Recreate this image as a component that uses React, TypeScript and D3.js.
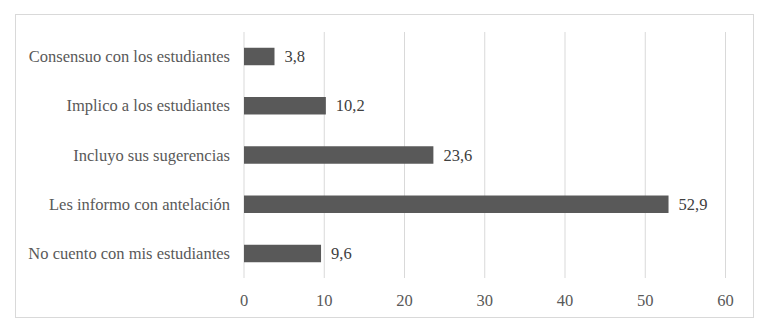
import * as d3 from "d3";
import { useEffect, useRef } from "react";

const categories = [
  "Consensuo con los estudiantes",
  "Implico a los estudiantes",
  "Incluyo sus sugerencias",
  "Les informo con antelación",
  "No cuento con mis estudiantes",
];
const values = [3.8, 10.2, 23.6, 52.9, 9.6];
const ticks = [0, 10, 20, 30, 40, 50, 60];

const App = () => {
  const ref = useRef<SVGSVGElement>(null);

  useEffect(() => {
    const plot = { left: 244, right: 725.5, top: 32, bottom: 278 };
    const font = "'Liberation Serif', serif";
    const fs = 16.5;

    const svg = d3.select(ref.current);
    svg.selectAll("*").remove();

    // chart frame
    svg.append("rect")
      .attr("x", 15.5).attr("y", 14.5)
      .attr("width", 738).attr("height", 303)
      .attr("fill", "white")
      .attr("stroke", "#d9d9d9");

    const x = d3.scaleLinear().domain([0, 60]).range([plot.left, plot.right]);
    const y = d3.scaleBand().domain(categories).range([plot.top, plot.bottom]).paddingInner(0.645).paddingOuter(0.32);

    // gridlines
    svg.append("g").selectAll("line").data(ticks).enter().append("line")
      .attr("x1", d => x(d)).attr("x2", d => x(d))
      .attr("y1", plot.top).attr("y2", plot.bottom)
      .attr("stroke", "#d9d9d9").attr("stroke-width", 1);

    // tick labels
    svg.append("g").selectAll("text").data(ticks).enter().append("text")
      .attr("x", d => x(d)).attr("y", 300)
      .attr("text-anchor", "middle").attr("dominant-baseline", "central")
      .attr("font-family", font).attr("font-size", fs)
      .attr("fill", "#595959")
      .text(d => d);

    // bars
    svg.append("g").selectAll("rect").data(values).enter().append("rect")
      .attr("x", x(0))
      .attr("y", (d, i) => y(categories[i])!)
      .attr("width", d => x(d) - x(0))
      .attr("height", y.bandwidth())
      .attr("fill", "#595959");

    // category labels
    svg.append("g").selectAll("text").data(categories).enter().append("text")
      .attr("x", plot.left - 14)
      .attr("y", d => y(d)! + y.bandwidth() / 2)
      .attr("text-anchor", "end").attr("dominant-baseline", "central")
      .attr("font-family", font).attr("font-size", fs)
      .attr("fill", "#595959")
      .text(d => d);

    // value labels
    svg.append("g").selectAll("text").data(values).enter().append("text")
      .attr("x", d => x(d) + 10)
      .attr("y", (d, i) => y(categories[i])! + y.bandwidth() / 2)
      .attr("dominant-baseline", "central")
      .attr("font-family", font).attr("font-size", fs)
      .attr("fill", "#404040")
      .text(d => d.toFixed(1).replace(".", ","));
  }, []);

  return (
    <svg ref={ref} width={772} height={330}
      style={{ position: "absolute", left: 0, top: 0, display: "block" }} />
  );
};

export default App;
